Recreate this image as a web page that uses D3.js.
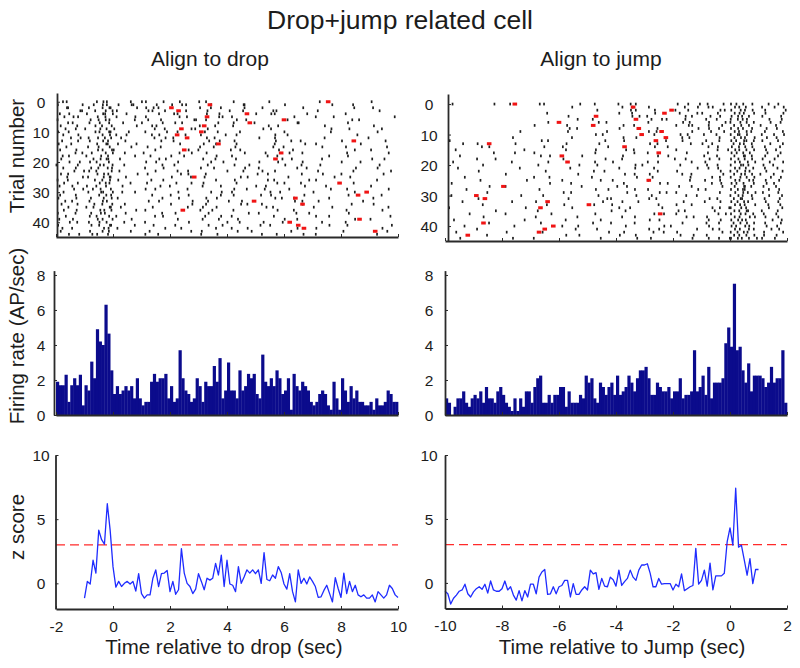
<!DOCTYPE html>
<html>
<head>
<meta charset="utf-8">
<script src="https://cdn.jsdelivr.net/npm/d3@7"></script>
<style>
  body { margin: 0; background: #ffffff; }
  svg { display: block; background: #ffffff; }
</style>
</head>
<body>
<svg id="chart" width="800" height="668"></svg>
<script>
// ---------------- DATA ----------------
const figureTitle = "Drop+jump related cell";
const columnTitles = ["Align to drop", "Align to jump"];
const xAxisLabels = ["Time relative to drop (sec)", "Time relative to Jump (sec)"];
const yAxisLabels = ["Trial number", "Firing rate (AP/sec)", "z score"];

const binWidth = 0.1;                 // seconds per histogram / raster bin
const dropWindowStart = -2;           // first bin start, drop-aligned
const jumpWindowStart = -10;          // first bin start, jump-aligned
const dropZStart = -1;                // first z-score sample time, drop-aligned
const jumpZStart = -10;               // first z-score sample time, jump-aligned

const dropTimeTicks = [-2, 0, 2, 4, 6, 8, 10];
const jumpTimeTicks = [-10, -8, -6, -4, -2, 0, 2];
const trialTicks = [0, 10, 20, 30, 40];
const rateTicks = [0, 2, 4, 6, 8];
const zTicks = [0, 5, 10];
const zThreshold = 3;

// Firing rate (AP/sec), 0.1 s bins from -2 to 10 s (drop aligned)
const dropRate = [
  1.9,1.7,1.7,2.3,0.75,1.7,2.1,1.7,2.3,0.55,
  1.7,1.4,3.05,2.1,4.9,4.2,4.0,6.3,4.65,2.55,
  1.2,1.65,1.2,1.4,1.65,1.4,1.65,0.95,2.1,0.95,
  0.55,0.75,0.75,1.9,2.35,1.9,2.1,2.1,2.35,0.95,
  1.65,0.75,0.95,3.7,2.1,1.4,1.2,0.75,0.95,2.1,
  1.65,0.75,1.9,1.65,1.65,2.8,1.9,3.25,0.95,1.4,
  3.0,1.4,1.4,0.95,2.55,1.4,1.65,2.35,2.1,2.35,
  1.2,0.95,3.45,1.9,1.65,2.1,1.65,2.55,2.1,1.2,
  1.4,2.1,0.3,2.35,1.65,1.4,1.9,1.65,1.4,0.75,
  0.55,0.75,1.2,1.4,1.2,0.55,0.3,1.9,0.95,0.3,
  2.1,1.4,0.75,1.65,0.95,1.4,0.75,0.75,0.55,0.55,
  0.75,0.3,0.95,0.55,0.55,0.75,1.4,1.2,0.75,0.75
];

// Firing rate (AP/sec), 0.1 s bins from -10 to 2 s (jump aligned)
const jumpRate = [
  0.95,0.7,0,0.47,0.95,0.95,1.35,0.7,0.47,0.95,
  1.15,0.95,1.35,0.7,1.6,0.95,0.95,0.7,1.35,1.6,
  1.15,0.7,0.47,0.23,0.95,0.23,0.95,0.47,1.35,1.35,
  0.7,1.6,2.1,2.25,0.7,0.7,1.15,0.7,1.15,1.15,
  1.6,1.6,0.47,1.35,0.7,0.7,0.7,1.15,0.95,2.25,
  1.85,2.1,0.95,0.7,1.85,1.6,1.15,1.6,1.85,1.15,
  2.25,1.15,1.35,1.6,2.25,1.85,1.35,2.1,2.55,2.55,
  2.75,2.1,1.15,1.15,1.85,1.6,1.35,1.35,1.6,0.95,
  1.35,1.35,2.1,0.95,1.15,1.15,1.35,3.7,1.35,1.6,
  2.25,1.15,2.75,0.95,1.85,1.85,1.85,2.1,4.1,5.0,
  3.9,7.5,3.7,3.9,2.55,1.85,2.95,1.35,2.25,2.25,
  2.25,2.1,1.6,1.85,2.75,1.85,2.1,2.1,3.7,0.7
];

// z score, 0.1 s steps from -1 to 10 s (drop aligned)
const dropZ = [
  -1.15,0.15,-0.05,1.8,0.8,4.15,3.4,3.05,6.2,4.15,
  1.3,-0.3,0.15,-0.25,0,0.15,-0.05,0.15,-0.6,0.75,
  -0.8,-1.15,-0.9,-0.9,0.4,1.05,-0.25,0.75,0.8,1.0,
  -0.65,0.15,-0.85,-0.5,2.7,0.8,0,-0.25,-0.8,-0.45,
  0.75,0.15,-0.5,0.4,0.25,0.4,1.55,0.65,2.2,-0.25,
  1.8,-0.05,-0.15,-0.65,1.3,0,0.5,1.05,0.8,1.05,
  0.75,1.05,0,2.4,0.3,0.2,0.65,0.4,1.3,0.85,
  -0.05,-0.45,0.75,-0.65,-1.45,1.05,0,0.4,-0.05,0.5,
  0.15,-0.25,-1.1,-1.05,-0.55,-0.15,-0.8,-1.45,0.45,-0.4,
  -1.1,0.8,-0.8,0.15,-0.65,-0.15,-0.9,-1.05,-0.9,-1.15,
  -1.15,-0.9,-1.45,-0.65,-0.9,-1.15,-0.9,-0.15,-0.4,-0.9,
  -1.1
];

// z score, 0.1 s steps from -10 to 1 s (jump aligned)
const jumpZ = [
  -0.65,-0.85,-1.65,-1.2,-0.95,-0.65,-0.55,-0.1,-0.85,-1.1,
  -0.7,-0.45,-0.3,-0.5,-0.1,-0.8,0.15,-0.55,-0.65,-0.65,
  -0.45,0.15,-0.55,-0.3,-0.95,-1.35,-0.6,-1.4,-0.6,-1.1,
  -0.1,-0.1,-0.85,0.45,0.85,1.05,-0.9,-0.85,-0.3,-0.85,
  -0.3,-0.2,0.2,0.2,-1.1,-0.05,-0.9,-0.9,-0.55,-0.3,
  -0.55,1.0,0.7,0.8,-0.5,0.35,-0.25,-0.3,0.45,0.25,
  -0.25,1.0,-0.2,0.1,0.35,1.0,0.45,0.2,1.0,1.4,
  1.4,1.5,0.75,-0.3,-0.3,0.35,-0.1,-0.05,-0.05,-0.05,
  -0.55,-0.1,-0.3,0.7,-0.6,-0.45,-0.3,-0.2,2.7,-0.1,
  0.2,1.0,-0.25,1.55,-0.55,0.55,0.55,0.55,0.75,3.2,
  4.3,2.95,7.4,2.8,2.95,1.8,0.6,1.9,-0.05,1.05,
  1.05
];

// Drop-to-jump interval (sec) for trials where it falls inside the window (red marks)
const eventTrials = [0,1,2,3,4,5,6,7,8,9,10,11,12,13,14,16,17,19,25,27,30,31,32,33,34,36,39,40,41,42,43];
const eventIntervals = [7.55,3.4,2.05,2.3,4.7,3.3,6.0,4.8,3.2,2.4,3.1,2.25,2.6,8.45,3.7,2.5,5.9,5.7,2.85,7.95,8.9,8.6,6.4,4.95,6.65,2.45,8.65,6.2,6.5,6.7,9.2];

// Spike rasters: one row per trial, one character per 0.1 s bin.
// "." = no spike; a digit d = spike at d hundredths of a second into the bin.
const dropRaster = [
  "..47...... ....3.68.. ......2... 15.....7.. ...4...... 2.6....... ..3....... ....8..... .......... ..5....... .......... 7.........",
  "6........3 ...2..48.. .9....51.. .....3.... 7...26.... ....4..... .....81... .......... 3......... ......9... ....2..... ..........",
  "...82..... .5....3.71 ........4. .6..29.... .......... 5...3..8.. ......1... ..4....... ......7... .......... ....6..... .2........",
  "........51 ...7...4.8 .3........ ..48....2. .....6.... ...1...... 9....6.... ......23.. .......... .8........ .......... ...5......",
  ".3..6..... 8.....52.9 ....7..... ......1... .46....... ..9....3.. .......... 2....57... ........1. .......... .6........ ..........",
  "..9...17.. ....6..3.. .2.....8.. .5........ ...3.9.... .......24. .7........ .......... ...6...... .1.....4.. .......... ........8.",
  "5......... ..1.9..47. .......6.. ..3...8... ........51 ..6....... ...4..7... .......... .2........ .......... ...9..3... ..........",
  "....28.... .7...3..6. ...5...... 1......4.. .8..2..... ......9... ..3......6 .......... ....71.... .......... ..4....... ..........",
  ".6.....4.. ...8..1..5 ........3. ...7.2.... .......... 4....8.... ..1....... ....6..9.. .......... ....3..... .......... .5........",
  "...3..9... 2....5.7.. 4......... ....6...1. .......58. ...2...... .......... ..7..4.... .......... ......6... ..9....... ....3.....",
  "7...4..... ...8.2..61 .....5.... .3......9. ..6....... ..2...7... ....5..... .......... 1......... ......4... .......... ..8.......",
  "..5....8.. ......3.9. .1..7..... ...6..2... .....4.... 8........5 ...3...... ......9... .2........ .......... .....7.... ..........",
  ".....2..6. .4..7..1.3 ..8....... ....5...4. .1........ ..9..6.... .......... .3....8... .......... ....2..... .........6 ..........",
  "..1....7.. .8....5.2. ....3..... ......9... .2........ ...7...4.. ..6....... .......1.. ..5..8.... .......... 3......... .....6....",
  "9....3.... ....4..61. .7......2. .......... ...5...... .8....1... ...3...... ......7... .......4.. .2........ ......9... ..........",
  "...6...... .2..9...8. ......4... ..1...7... .......... 5....3.... ..9....... ......2..8 .......... ...4...... .7........ ......1...",
  ".4.....1.. ....7.3..6 2......... ....8..... ......5..9 .......... .3..6..... ........2. ...1...... .......... ....8..... 5.........",
  "......8..2 ..5....4.9 ....1..... 7......... ...3...6.. ..8....... ......2... ...5...... .9....4... .......... ..1....... ......7...",
  "..3.5..... 6....8..2. .......7.. ...1...... 4...9..... ......3... .7........ ....2..6.. .......... .....8.... ..4....... ..........",
  ".8........ ...1.6.73. ..4....... ......2.5. .......... .6...9.... ...1...... .........4 ..7....... ...3...... .......... 9....2....",
  "....7...3. .9..2...5. .......... .6...1.... ..8....... ....4...7. .......... .3.....9.. ......5... .......... 2.....8... ..........",
  "1......6.. .....47..8 ...9...... .......3.. .5........ ...2...... ..6....8.. .......... 4.....1... ..7....... .......... ...5......",
  "..5...9... ..3.8...16 .......... .2.....7.. .......... 8....4.... ......3... .1........ ....6..9.. .......... .....2.... ..8.......",
  "......4..8 .6..1....5 ..2....... ....9..... ..6...3... .......... 1....7.... ..4...8... .......... .9........ ....3..... .......5..",
  ".7..2..... ....5.8.3. ........6. ..1....... ...8..4... ..5....... .......... 7...3..... ......2... ...6...... 1......... ....9.....",
  "...9.....4 .2....7.81 ....5..... .......... 6......3.. ..1....... ....8..2.. .......... .5........ .......7.. ...2...... ..........",
  "5...1..... ...6..2.9. .8........ ...4...6.. .......... ......1... ..7....... ....3.5... ........8. .2........ .......... ..6.......",
  "..8....6.. .....3.47. ......1... .9........ ..2....5.. .7........ ...3...... .......6.. 1....9.... .......... ....4..... ..........",
  ".2...7.... 8...1..5.. ...3...... ......6..9 .......... .4.....8.. .......... 2..6...... .......3.. ....7..... .......... 5.........",
  "......3..5 ..9..6...2 .......... .4..8..... ......1... .......... ..5...9... ...2...... .8........ ......4... ..1....... ......7...",
  "..6....... .3...85..9 ...2...7.. .......... ..9....... ....4...1. .7........ .....2..6. .......... 3......... ....8..... ..........",
  ".4....9... .....1.6.3 .......... ...7...... 2.....5... .......8.. ..3....... .9...4.... .......1.. .......... ..6....... ....2.....",
  "8......1.. ..2...7..5 .6........ .......3.. ...1...... ..7...4... .......... ......9..2 ...5...... .....8.... .......... .3........",
  "...2.6.... .7....48.. .......... ..5...1... .......9.. ...3...... 6....2.... .......... ...8..4... ..1....... .......7.. ..........",
  ".9.....5.. ...4..2..7 ....1..... .......... 3......8.. ..6....... ....9..1.. ..2....... ......5... .......... ...7...... .4........",
  "....3..... 6..1....82 ..7....... ...9...... ......2... .5....3... .......... ...8..1... .......... 4.....9... .......... ......6...",
  "..7....2.. .....59..4 ........1. .3........ .......... 6...8..... ..2....... .......7.. ...4...... .......... .9........ ....5.....",
  "6.....8... ..3..7.1.. ....4..... .......2.. .9........ ...5...... .......6.. .1........ ....3...8. .......... ..7....... ..........",
  "...4...... .8..2...6. .1........ ....7..5.. .......... ..3....9.. .6........ ......4... .......... .2...8.... .......... .......3..",
  ".1...9.... ....6.3..8 ......5... .......... ..7....... .4.....1.. ...8...... .......... 2...6..... .......... ....9..... 3.........",
  "....8..4.. .5...2.7.. ...9...... .2........ ......6... .......... 1...4..... ..8......5 .......... ...3...... .6........ ..........",
  "7......... ..4..1..93 .......6.. ....2..... .8........ ...5....4. .......... .7...1.... .......... .....9.... ..2....... .......8..",
  "..2..6.... ......8.4. .5........ ........3. ...9...... ......1... .6.....2.. .......... ....7..... .3........ .......... ....5.....",
  ".6........ .9....3.5. ......2... ..8....... .......4.. .1........ ...7....6. .......... ..5....... .......... 8......... ......2...",
  "....5...1. ..7.4...2. .......... .3...8.... .......... 9.....6... .......... ..2....4.. ......8... .1........ .......... ..6......."
];

const jumpRaster = [
  "..6....... .......3.. ..8....... ...27..... .......4.. ..5....... 8....19... .......... .6...3...4 ..1....7.. 3.2.6..8.. ...5..9...",
  ".......... .......... .......... .......... ....6..... .......... ..2..8.... .5........ ....1...7. ..49...... .7.2.5.... .2...6..8.",
  ".......... .......... .......... .......... .......... ...4...... .....29... ...6...... 8....3.... ......6.1. 4..7.2.9.. ..3......5",
  ".......... .......... .......... .....8.... .......... .......... .1...6.... ...7...... ..3.....5. 2....7.... .6.38...4. ..4.....7.",
  ".......... .......... .......... .......... ...3...... .......... .....7..2. 9......... ....4.6... ...1..5... 5.8.2.6... .3.....9..",
  ".......... .......... .......... .......... ......5... .8........ .......... ..4...17.. ....3..... .6...3.... 2.7.49.... ...8....1.",
  ".......... .......... .......... ......2... .......... ...9..6... .......... .3........ ...5.8.... ..6.....4. 1..6.8..3. ....2..7..",
  ".......... .......... .......... .4........ ..8....... .......... ..6...3... .......... .1...57... ..5....2.. .4.9..6... 7.....1...",
  ".......... .......... .......... .......... ...7..3... .......... .2.....8.. ....5..... ........9. ..6...1... 3.8.5..7.. ..8...4...",
  ".......... .......... ......4... .......... ...1...... ......8... .......... .5..2..... ......7... ...3...9.. .6.1.8.4.. ..2.....5.",
  ".......... .......... .......... .......... .......... ..9..3.... .......... ...4...... ..6..1.... 8....2.... 2.73.9.... .1...4..9.",
  ".......... .......... ...8...... .......... ....5..... .......... ..6....1.. .......... ...2.7.... ......3... .5.8.2..6. ..9...3...",
  ".6........ .......... .......... ...9..1... .......... ......2... ..8....... .......5.. ...3...... .6....2... 4.1.97..3. .3....8...",
  "......3... .4........ ....7..... .......... ..6....... ....1..... .......... .9..5..... ......2... 3..7...... .2.48..6.. ....1...5.",
  ".......... ..9..5.... .......... ....8..... .3........ .......2.. .......... ...6....1. .......... ..4..7.... 6..1.3.8.. ..2....5..",
  "...7...... .......... .......8.. .......... ..4....... ..9....... ...5..2... .......... .1........ .....6...3 .8.2.7..4. ..6...1...",
  ".......... .......1.. ....5..... .3........ .......... ..7....... ......4... .1........ ....8..... ..2....... 5.3.6.9... ...1...7..",
  ".....2.... .......... .......... ...6..8... ........1. .......... ..4....... ....7...3. .......... 9....4.... .5..82.6.. ..3...8...",
  ".......... .2.....7.. .......... .......... .5........ ......3... ..1....... .......... 6...4..... ..8...2... 3.9..1.7.. .4...6....",
  "..8....... .......... ...4...... ......2... .......... ..6.....9. .......... .1..7..... ......5... .3........ .7.4..2.8. ...9....6.",
  ".......... ...3...... .......... ..7....... .......1.. ...4...... ......8..2 .......... ..5....... .9...6.... 2..86.4... .7...1....",
  "....5..... .......... ......2... .......... ...9...... .......... .1....7... ...3...... ........6. ..4..8.... .7.3.5..1. ..2...6...",
  ".......... .8........ .......... .....3.... .......... ..2..9.... .......... ....6..... .4........ ......7... 1.5..38... ..7.....4.",
  ".......... .......... .3........ .......... ......7... .......... ...1..5... .8........ ...2..4... .......6.. .4.9.2.7.. 6....3....",
  "......9... .......... .......... .2....6... .......... .5........ .......3.. ..8....... ......1... ...7..4... 2..6.8..5. ....3..8..",
  ".......... ..4....... ........7. .......... .1........ ....6...8. .......... .3........ .....9.... .2....5... .8.3..7.1. ..5....2..",
  "..3....... .......... .......... ......8... ....2..... .......... ..7....... .....4..1. .......... ...6..9... 5.2.7...3. ..8..4....",
  ".......... .....6.... .2........ .......... .......9.. .......... 4..8...... .......... ..1...5... .......3.. .6..92.4.. .7....1...",
  ".......5.. .......... .......... ...1...... .......... ..9....3.. ......6... .2........ ........8. .4........ 3.7.51.... ...6...2..",
  ".......... ....8..... .......... .......... .6..2..... .......... ...9...... .....3.7.. .1........ ......4... .8..6.2.9. .5....9...",
  "..2....... .......... ......7... ....4..... .......... ...8...... .......1.. ..5....... ....6...3. .......... 1.9.4..6.. ...7....2.",
  ".......... .7........ .......... .......... ...3...... ......9.2. .......... .6..1..... .......... ..8..5.... .3.72..8.. ..1....4..",
  "......1... .......... ...5...... .9........ .......... .....4.... ..2....8.. .......... ...7...... .1....6... 4.6.9.3... ..5...9...",
  ".......... ...2...... .......... .....7.... .8........ ..3.....6. .......... ....9..... .2....5... .......... .7.5.1..8. ...4...6..",
  ".4........ .......... ........3. .......... ....6..... .......... .1..9..... ......2... .......... ...8..4..7 2..9.6.... ...6....3.",
  ".......... .......8.. .......... ..5....... .......... ........4. ...3...... .......... .9..1..... ....6..... .5.2.83... .1....7...",
  "........6. .......... .2........ .......3.. .......... ..7....... .......... ...4..8... .1........ .....9..5. 3..7.4..1. .8....2...",
  ".......... ...5...... .......... .8........ ......4... .......... ..1...6... .......... ....7..2.. .9........ .6.3..9.7. ..4...9...",
  "...1...... .......... .......9.. .......... ..3....... ....6..... .......... .8...2.... .......... ..5...7... 4.8.25.... ....9...1.",
  ".......... .....4.... .......... ...6...... .......... .9......2. ......5... .......... ...3...... .7....1... .2.6.9..4. ..3....8..",
  "......8... .......... ....3..... .......... .1....7... .......... ...4...... ......9..2 .......... ..6....... 5.1..37... ..8...5...",
  ".......... .2........ .......... .......... .....8.... ...3...... .......... .6...1.... ........4. ...9..2... .7.4..6.3. ....5..2..",
  "...9...... .......... .6........ ....2..... .......... .......5.. ..8....... ...1..7... .4........ .......3.. 2.6.8.1... .9......6.",
  ".......... ....7..... .......... .......... ..5....1.. .......... .3....9... .......... ..6....2.. .8........ .4.2.7..5. .9....3...",
  ".....3.... .......... ...8...... .1........ .......... ....6..... .......4.. ..2....... ......8... ..5...1..9 3.7.1.6..4 .2...7...."
];

// ---------------- DRAWING ----------------
const FONT = '"Liberation Sans", Arial, Helvetica, sans-serif';
const INK = "#1c1c1c";
const AXIS = "#2a2a2a";
const svg = d3.select("#chart");

svg.append("rect").attr("width", 800).attr("height", 668).attr("fill", "#ffffff");

function addText(x, y, str, size, anchor, rotate) {
  const t = svg.append("text")
    .attr("font-family", FONT).attr("font-size", size)
    .attr("fill", INK).attr("text-anchor", anchor || "middle")
    .text(str);
  if (rotate) t.attr("transform", `translate(${x},${y}) rotate(${rotate})`);
  else t.attr("x", x).attr("y", y);
  return t;
}

addText(400, 28.5, figureTitle, 26.5);

function styleAxis(g) {
  g.attr("font-family", FONT).attr("font-size", 15.5);
  g.select(".domain").attr("stroke", AXIS).attr("stroke-width", 1.8);
  g.selectAll(".tick line").attr("stroke", AXIS).attr("stroke-width", 1);
  g.selectAll(".tick text").attr("fill", INK);
}

function leftAxis(axisX, scale, ticks, labelX) {
  const g = svg.append("g").attr("transform", `translate(${axisX},0)`)
    .call(d3.axisLeft(scale).tickValues(ticks).tickSize(-3).tickSizeOuter(0)
      .tickFormat(d => String(d)));
  styleAxis(g);
  g.selectAll(".tick text").attr("x", labelX - axisX)
    .attr("text-anchor", "middle").attr("dy", "0.36em");
}

function bottomAxis(axisY, scale, ticks, withLabels) {
  const ax = d3.axisBottom(scale).tickValues(ticks).tickSize(-3).tickSizeOuter(0)
    .tickPadding(11.5).tickFormat(withLabels ? (d => String(d)) : () => "");
  const g = svg.append("g").attr("transform", `translate(0,${axisY})`).call(ax);
  styleAxis(g);
}

const columns = [
  {
    title: columnTitles[0], titleX: 210, xlabel: xAxisLabels[0], xlabelX: 224,
    xDomain: [-2, 10], xRange: [56, 398], timeTicks: dropTimeTicks, winStart: dropWindowStart,
    raster: dropRaster, sign: 1, rate: dropRate, z: dropZ, zStart: dropZStart,
    tickLabelX: 41,
    rasterAxisX: 57, trialDomain: [-2.9, 44.9], rasterRange: [93, 237],
    histAxisX: 54, zAxisX: 55.5, zRange: [609, 455]
  },
  {
    title: columnTitles[1], titleX: 601, xlabel: xAxisLabels[1], xlabelX: 622,
    xDomain: [-10, 2], xRange: [445, 787], timeTicks: jumpTimeTicks, winStart: jumpWindowStart,
    raster: jumpRaster, sign: -1, rate: jumpRate, z: jumpZ, zStart: jumpZStart,
    tickLabelX: 429,
    rasterAxisX: 448, trialDomain: [-3.3, 44.9], rasterRange: [94, 241],
    histAxisX: 445, zAxisX: 445, zRange: [608.5, 455]
  }
];

columns.forEach(c => {
  const x = d3.scaleLinear().domain(c.xDomain).range(c.xRange);

  addText(c.titleX, 66, c.title, 21);

  // ---- Raster ----
  const yR = d3.scaleLinear().domain(c.trialDomain).range(c.rasterRange);
  const spikes = [];
  c.raster.forEach((row, trial) => {
    const s = row.replace(/\s/g, "");
    for (let i = 0; i < s.length; i++) {
      const ch = s[i];
      if (ch >= "0" && ch <= "9") {
        spikes.push({ trial, t: c.winStart + binWidth * i + 0.01 * (+ch) + 0.005 });
      }
    }
  });
  svg.append("g").selectAll("rect").data(spikes).join("rect")
    .attr("x", d => x(d.t) - 0.85).attr("y", d => yR(d.trial) - 1.35)
    .attr("width", 1.7).attr("height", 2.7).attr("fill", "#1e1e1e");

  const events = eventTrials.map((tr, k) => ({ trial: tr, t: c.sign * eventIntervals[k] }))
    .filter(d => d.t >= c.xDomain[0] && d.t <= c.xDomain[1]);
  svg.append("g").selectAll("rect").data(events).join("rect")
    .attr("x", d => x(d.t) - 2.3).attr("y", d => yR(d.trial) - 1.5)
    .attr("width", 4.6).attr("height", 3).attr("fill", "#f01414");

  leftAxis(c.rasterAxisX, yR, trialTicks, c.tickLabelX);
  bottomAxis(c.rasterRange[1], x, c.timeTicks, false);

  // ---- Histogram ----
  const yH = d3.scaleLinear().domain([0, 8.25]).range([415, 270.6]);
  const bars = c.rate.map((v, i) => ({ t0: c.winStart + binWidth * i, v }));
  svg.append("g").selectAll("rect").data(bars).join("rect")
    .attr("x", d => x(d.t0))
    .attr("width", d => x(d.t0 + binWidth) - x(d.t0) + 0.35)
    .attr("y", d => yH(d.v))
    .attr("height", d => yH(0) - yH(d.v))
    .attr("fill", "#0b0b8c");
  leftAxis(c.histAxisX, yH, rateTicks, c.tickLabelX);
  bottomAxis(415, x, c.timeTicks, false);

  // ---- z score ----
  const yZ = d3.scaleLinear().domain([-2, 10]).range(c.zRange);
  svg.append("line")
    .attr("x1", x(c.xDomain[0])).attr("x2", x(c.xDomain[1]))
    .attr("y1", yZ(zThreshold)).attr("y2", yZ(zThreshold))
    .attr("stroke", "#ff2a2a").attr("stroke-width", 1.3).attr("stroke-dasharray", "9,5");
  const pts = c.z.map((v, i) => ({ t: c.zStart + binWidth * i, v }));
  svg.append("path").datum(pts)
    .attr("fill", "none").attr("stroke", "#1f2cff").attr("stroke-width", 1.3)
    .attr("stroke-linejoin", "round")
    .attr("d", d3.line().x(d => x(d.t)).y(d => yZ(d.v)));
  leftAxis(c.zAxisX, yZ, zTicks, c.tickLabelX);
  bottomAxis(c.zRange[0], x, c.timeTicks, true);

  addText(c.xlabelX, 654, c.xlabel, 20.5);
});

// y-axis titles (left column only)
addText(24, 156, yAxisLabels[0], 20.5, "middle", -90);
addText(24, 336, yAxisLabels[1], 20.5, "middle", -90);
addText(24, 527, yAxisLabels[2], 20.5, "middle", -90);
</script>
</body>
</html>
